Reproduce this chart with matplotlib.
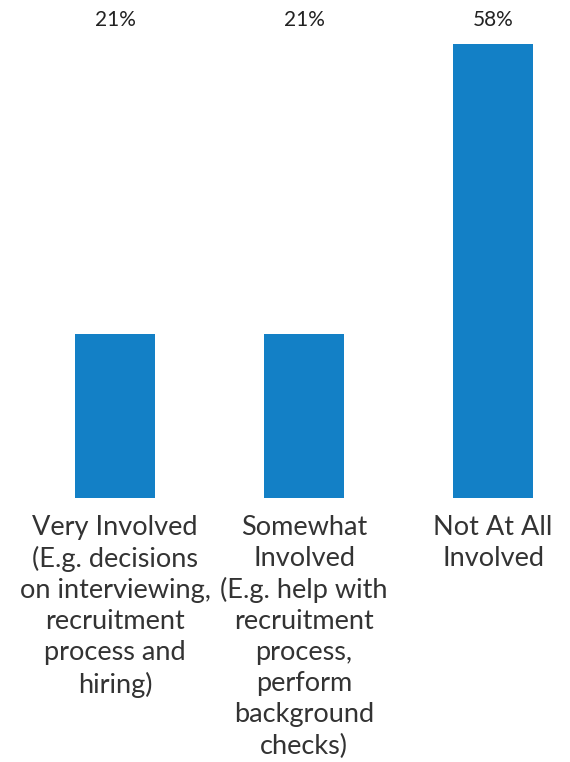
import matplotlib.pyplot as plt

categories = [
    "Very Involved\n(E.g. decisions\non interviewing,\nrecruitment\nprocess and\nhiring)",
    "Somewhat\nInvolved\n(E.g. help with\nrecruitment\nprocess,\nperform\nbackground\nchecks)",
    "Not At All\nInvolved",
]
values = [21, 21, 58]
value_labels = ["21%", "21%", "58%"]

bar_color = "#1380c6"
text_color = "#333333"

fig = plt.figure(figsize=(5.7, 7.62), dpi=100)
# axes spans the full width, y=0 at the bar baseline and y=58 at the tallest bar top
ax = fig.add_axes([0, 1 - 498 / 762, 1, (498 - 44) / 762])

x = list(range(len(values)))
ax.bar(x, values, width=80 / 189, color=bar_color)
ax.set_xlim(-115 / 189, (570 - 115) / 189)
ax.set_ylim(0, 58)
ax.axis("off")

trans = ax.get_xaxis_transform()
for xi, lab, cat in zip(x, value_labels, categories):
    # percentages sit in one row above the plot, not on the bars
    ax.text(xi, 1 + 24 / 454, lab, transform=trans, ha="center", va="center",
            fontsize=15, family="Lato", color="#222222")
    ax.text(xi, -17 / 454, cat, transform=trans, ha="center", va="top",
            fontsize=19.5, family="Lato", color=text_color, linespacing=1.3)

fig.savefig("out.png", dpi=100)
